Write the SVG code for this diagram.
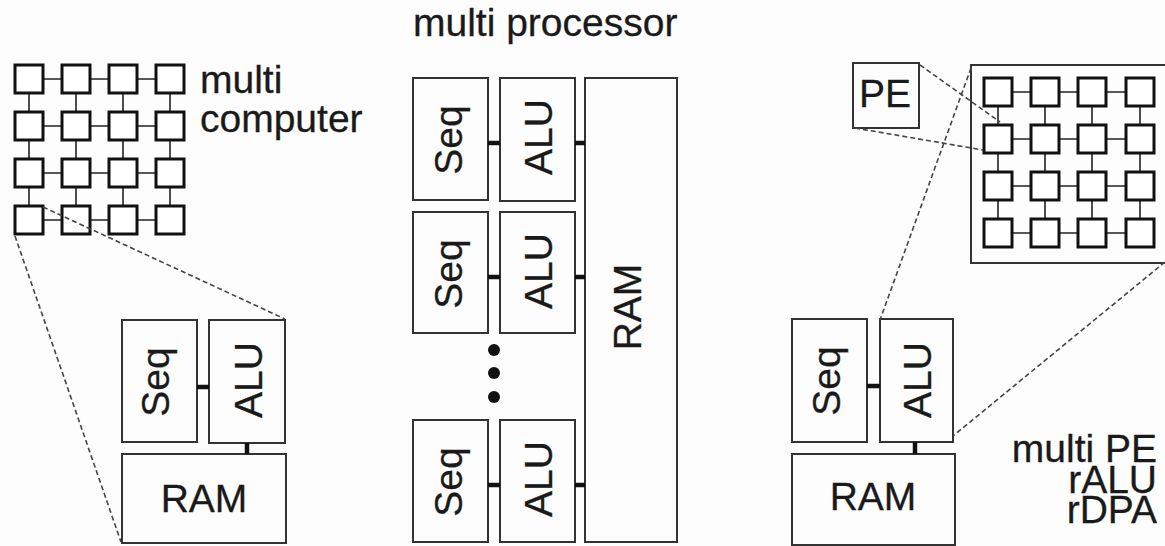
<svg xmlns="http://www.w3.org/2000/svg" width="1165" height="546" viewBox="0 0 1165 546">
<style>
.box{fill:none;stroke:#333;stroke-width:2}
.cell{fill:#fff;stroke:#111;stroke-width:3}
.wire{stroke:#222;stroke-width:1.6;fill:none}
.link{stroke:#111;stroke-width:4.5}
.dash{stroke:#444;stroke-width:1.6;stroke-dasharray:5 3;fill:none}
.t{font-family:"Liberation Sans",Arial,sans-serif;font-size:39px;fill:#1a1a1a;stroke:#1a1a1a;stroke-width:0.3}
.m{text-anchor:middle}
.e{text-anchor:end}
</style>
<rect width="1165" height="546" fill="#fdfdfd"/>

<g id="grid-left">
  <path class="wire" d="M29 79H170M29 126H170M29 173H170M29 220H170M29 79V220M76 79V220M123 79V220M170 79V220"/>
  <rect class="cell" x="15" y="65" width="28" height="28"/><rect class="cell" x="62" y="65" width="28" height="28"/><rect class="cell" x="109" y="65" width="28" height="28"/><rect class="cell" x="156" y="65" width="28" height="28"/>
  <rect class="cell" x="15" y="112" width="28" height="28"/><rect class="cell" x="62" y="112" width="28" height="28"/><rect class="cell" x="109" y="112" width="28" height="28"/><rect class="cell" x="156" y="112" width="28" height="28"/>
  <rect class="cell" x="15" y="159" width="28" height="28"/><rect class="cell" x="62" y="159" width="28" height="28"/><rect class="cell" x="109" y="159" width="28" height="28"/><rect class="cell" x="156" y="159" width="28" height="28"/>
  <rect class="cell" x="15" y="206" width="28" height="28"/><rect class="cell" x="62" y="206" width="28" height="28"/><rect class="cell" x="109" y="206" width="28" height="28"/><rect class="cell" x="156" y="206" width="28" height="28"/>
  <text class="t" x="200" y="93">multi<tspan x="200" y="132">computer</tspan></text>
</g>

<g id="computer-left">
  <rect class="box" x="122" y="320" width="75" height="122"/>
  <text class="t m" transform="translate(159 382) rotate(-90)" y="10">Seq</text>
  <rect class="box" x="209" y="320" width="76" height="123"/>
  <text class="t m" transform="translate(248 380) rotate(-90)" y="14">ALU</text>
  <rect class="box" x="122" y="454" width="164" height="89"/>
  <text class="t m" x="204" y="512">RAM</text>
</g>

<g id="multiprocessor">
  <text class="t" x="413" y="36">multi processor</text>
  <rect class="box" x="413" y="78" width="75" height="122"/>
  <text class="t m" transform="translate(450 140) rotate(-90)" y="12">Seq</text>
  <rect class="box" x="500" y="78" width="75" height="123"/>
  <text class="t m" transform="translate(538 137) rotate(-90)" y="14">ALU</text>
  <rect class="box" x="413" y="212" width="75" height="121"/>
  <text class="t m" transform="translate(450 274) rotate(-90)" y="12">Seq</text>
  <rect class="box" x="500" y="212" width="75" height="121"/>
  <text class="t m" transform="translate(538 271) rotate(-90)" y="14">ALU</text>
  <rect class="box" x="413" y="420" width="75" height="122"/>
  <text class="t m" transform="translate(450 482) rotate(-90)" y="12">Seq</text>
  <rect class="box" x="500" y="420" width="75" height="122"/>
  <text class="t m" transform="translate(538 479) rotate(-90)" y="14">ALU</text>
  <rect class="box" x="585" y="78" width="92" height="464"/>
  <text class="t m" transform="translate(628 307) rotate(-90)" y="13">RAM</text>
  <circle cx="494" cy="350" r="6" fill="#111"/>
  <circle cx="494" cy="373" r="6" fill="#111"/>
  <circle cx="494" cy="397" r="6" fill="#111"/>
</g>

<g id="pe">
  <rect class="box" x="853" y="63" width="66" height="65"/>
  <text class="t m" x="885" y="107">PE</text>
</g>

<g id="grid-right">
  <rect class="box" x="971" y="65" width="200" height="198"/>
  <path class="wire" d="M998 92H1140M998 139H1140M998 186H1140M998 233H1140M998 92V233M1045 92V233M1092 92V233M1140 92V233"/>
  <rect class="cell" x="984" y="78" width="28" height="28"/><rect class="cell" x="1031" y="78" width="28" height="28"/><rect class="cell" x="1078" y="78" width="28" height="28"/><rect class="cell" x="1126" y="78" width="28" height="28"/>
  <rect class="cell" x="984" y="125" width="28" height="28"/><rect class="cell" x="1031" y="125" width="28" height="28"/><rect class="cell" x="1078" y="125" width="28" height="28"/><rect class="cell" x="1126" y="125" width="28" height="28"/>
  <rect class="cell" x="984" y="172" width="28" height="28"/><rect class="cell" x="1031" y="172" width="28" height="28"/><rect class="cell" x="1078" y="172" width="28" height="28"/><rect class="cell" x="1126" y="172" width="28" height="28"/>
  <rect class="cell" x="984" y="219" width="28" height="28"/><rect class="cell" x="1031" y="219" width="28" height="28"/><rect class="cell" x="1078" y="219" width="28" height="28"/><rect class="cell" x="1126" y="219" width="28" height="28"/>
</g>

<g id="computer-right">
  <rect class="box" x="792" y="319" width="75" height="123"/>
  <text class="t m" transform="translate(830 381) rotate(-90)" y="10">Seq</text>
  <rect class="box" x="880" y="319" width="73" height="123"/>
  <text class="t m" transform="translate(917 380) rotate(-90)" y="14">ALU</text>
  <rect class="box" x="792" y="454" width="163" height="91"/>
  <text class="t m" x="873" y="510">RAM</text>
</g>

<g id="label-right">
  <text class="t e" x="1157" y="462">multi PE<tspan x="1157" y="493">rALU</tspan><tspan x="1157" y="523">rDPA</tspan></text>
</g>

<g id="connectors">
  <line class="link" x1="197" y1="387" x2="209" y2="387"/>
  <line class="link" x1="247" y1="443" x2="247" y2="454"/>
  <line class="link" x1="488" y1="143" x2="500" y2="143"/>
  <line class="link" x1="575" y1="143" x2="585" y2="143"/>
  <line class="link" x1="488" y1="277" x2="500" y2="277"/>
  <line class="link" x1="575" y1="277" x2="585" y2="277"/>
  <line class="link" x1="488" y1="485" x2="500" y2="485"/>
  <line class="link" x1="575" y1="485" x2="585" y2="485"/>
  <line class="link" x1="867" y1="386" x2="880" y2="386"/>
  <line class="link" x1="915" y1="442" x2="915" y2="454"/>
  <line class="dash" x1="15" y1="236" x2="121" y2="542"/>
  <line class="dash" x1="43" y1="207" x2="285" y2="319"/>
  <line class="dash" x1="920" y1="65" x2="1000" y2="122"/>
  <line class="dash" x1="855" y1="128" x2="983" y2="150"/>
  <line class="dash" x1="971" y1="68" x2="880" y2="320"/>
  <line class="dash" x1="1165" y1="262" x2="953" y2="436"/>
</g>
</svg>
